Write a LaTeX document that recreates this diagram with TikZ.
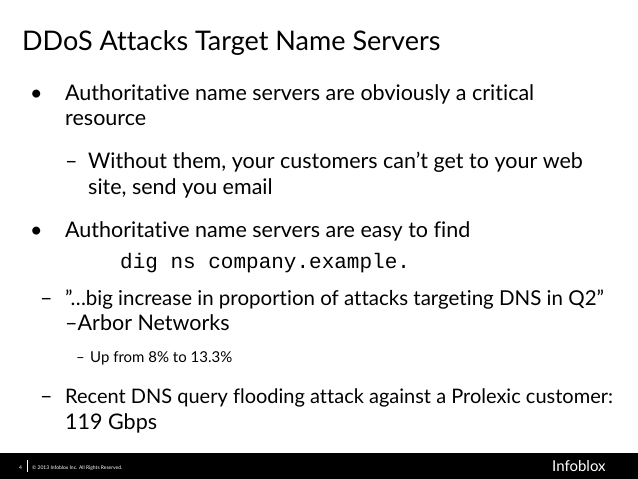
\documentclass[tikz,border=0pt]{standalone}
\usepackage{fontspec}
\setmainfont{Lato}[Ligatures=NoCommon]
\setmonofont{Liberation Mono}
\begin{document}
\begin{tikzpicture}[x=1pt,y=-1pt,
  txt/.style={anchor=base west,inner sep=0pt,font=\fontsize{21.5}{24}\selectfont},
  txtn/.style={anchor=base west,inner sep=0pt,font=\fontsize{20.5}{24}\selectfont},
  small/.style={anchor=base west,inner sep=0pt,font=\fontsize{15}{18}\selectfont}]
\useasboundingbox (0,0) rectangle (638,479);
\fill[black] (0,453) rectangle (638,479);
\node[anchor=base west,inner sep=0pt,font=\fontsize{27}{32}\selectfont] (title) at (22,50) {DDoS Attacks Target Name Servers};
\node[txt] (b1) at (30,100) {•};
\node[txt] (t1) at (65,100) {Authoritative name servers are obviously a critical};
\node[txt] (t1b) at (65,125) {resource};
\node[txt] (d1) at (65,168) {–};
\node[txt] (t2) at (88,168) {Without them, your customers can’t get to your web};
\node[txt] (t2b) at (88,194) {site, send you email};
\node[txt] (b2) at (30,237) {•};
\node[txt] (t3) at (65,237) {Authoritative name servers are easy to find};
\node[anchor=base west,inner sep=0pt,font=\ttfamily\fontsize{21}{24}\selectfont] (dig) at (120,268) {dig ns company.example.};
\node[txt] (d2) at (40,305) {–};
\node[txtn] (t4) at (65,305) {”…big increase in proportion of attacks targeting DNS in Q2”};
\node[txt] (t4b) at (65,330) {–Arbor Networks};
\node[small] (d3) at (76,362) {–};
\node[small] (t5) at (90,362) {Up from 8\% to 13.3\%};
\node[txt] (d4) at (40,403) {–};
\node[anchor=base west,inner sep=0pt,font=\fontsize{20}{24}\selectfont] (t6) at (65,403) {Recent DNS query flooding attack against a Prolexic customer:};
\node[txt] (t6b) at (65,429) {119 Gbps};
\node[anchor=base west,inner sep=0pt,text=white,font=\fontsize{5}{6}\selectfont] (pg) at (19,469) {4};
\draw[white,line width=0.4pt] (27,460) -- (27,472);
\node[anchor=base west,inner sep=0pt,text=white,font=\fontsize{5}{6}\selectfont] (copy) at (32,469) {© 2013 Infoblox Inc. All Rights Reserved.};
\node[anchor=base west,inner sep=0pt,text=white,font=\fontsize{15}{18}\selectfont] (logo) at (552,471) {Infoblox};
\end{tikzpicture}
\end{document}
